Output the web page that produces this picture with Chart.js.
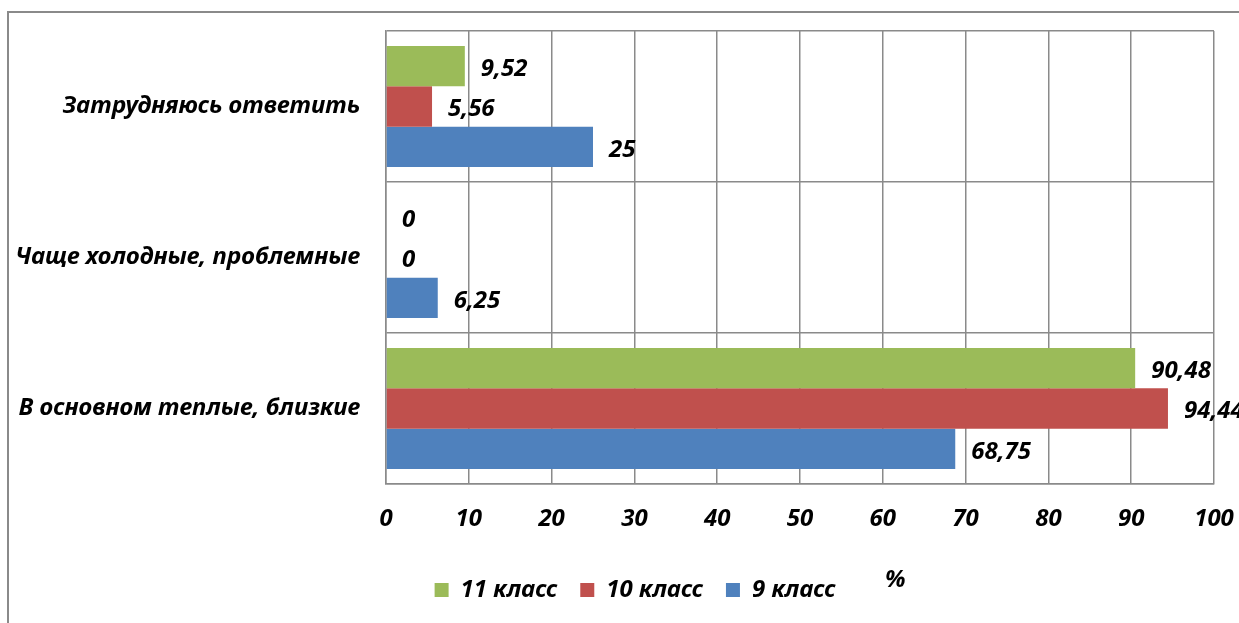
<!DOCTYPE html>
<html>
<head>
<meta charset="utf-8">
<script src="https://cdn.jsdelivr.net/npm/chart.js@4"></script>
<style>
  html, body { margin: 0; padding: 0; background: #fff; }
  #wrap { width: 1239px; height: 623px; position: relative; }
</style>
</head>
<body>
<div id="wrap"><canvas id="c"></canvas></div>
<script>
const categories = ['Затрудняюсь ответить', 'Чаще холодные, проблемные', 'В основном теплые, близкие'];
const seriesNames = ['11 класс', '10 класс', '9 класс'];
const grade11 = [9.52, 0, 90.48];
const grade10 = [5.56, 0, 94.44];
const grade9 = [25, 6.25, 68.75];
const xTicks = [0, 10, 20, 30, 40, 50, 60, 70, 80, 90, 100];
const axisTitle = '%';

const FONT = '"Noto Sans", sans-serif';
const FS = 24;
const GRID = '#8a8a8a';

const frame = {
  id: 'frame',
  beforeDraw(chart) {
    const ctx = chart.ctx;
    ctx.save();
    ctx.fillStyle = '#fff';
    ctx.fillRect(0, 0, chart.width, chart.height);
    ctx.strokeStyle = '#8a8a8a';
    ctx.lineWidth = 2;
    ctx.beginPath();
    ctx.moveTo(8, chart.height + 5);
    ctx.lineTo(8, 12);
    ctx.lineTo(chart.width + 5, 12);
    ctx.stroke();
    ctx.restore();
    // legend is centred a little right of the canvas centre in the reference
    if (chart.legend) { chart.legend.left += 20; chart.legend.right += 20; }
  }
};

const valueLabels = {
  id: 'valueLabels',
  afterDatasetsDraw(chart) {
    const ctx = chart.ctx;
    ctx.save();
    ctx.font = 'italic bold ' + FS + 'px ' + FONT;
    ctx.fillStyle = '#000';
    ctx.textAlign = 'left';
    ctx.textBaseline = 'middle';
    chart.data.datasets.forEach((ds, i) => {
      const meta = chart.getDatasetMeta(i);
      meta.data.forEach((el, j) => {
        const txt = String(ds.data[j]).replace('.', ',');
        ctx.fillText(txt, el.x + 16, el.y + 3);
      });
    });
    const xs = chart.scales.x;
    ctx.textAlign = 'center';
    ctx.fillText(axisTitle, xs.left + (xs.right - xs.left) * 0.615, 580);
    ctx.restore();
  }
};

const tickFont = { family: FONT, size: FS, style: 'italic', weight: 'bold' };

new Chart(document.getElementById('c'), {
  type: 'bar',
  data: {
    labels: categories,
    datasets: [
      { label: seriesNames[0], data: grade11, backgroundColor: '#9BBB59' },
      { label: seriesNames[1], data: grade10, backgroundColor: '#C0504D' },
      { label: seriesNames[2], data: grade9, backgroundColor: '#4F81BD' }
    ]
  },
  options: {
    indexAxis: 'y',
    responsive: true,
    maintainAspectRatio: false,
    animation: false,
    categoryPercentage: 0.8,
    barPercentage: 1.0,
    layout: { padding: { left: 16, right: 25, top: 31, bottom: 11 } },
    scales: {
      x: {
        min: 0, max: 100,
        afterBuildTicks(scale) { scale.ticks = xTicks.map(v => ({ value: v })); },
        afterFit(scale) { scale.height = 71; scale.paddingLeft = 0; scale.paddingRight = 0; },
        grid: { color: GRID, lineWidth: 1.5, drawTicks: false },
        border: { color: GRID, width: 1.5 },
        ticks: { padding: 21, color: '#000', font: tickFont }
      },
      y: {
        afterFit(scale) { scale.width = 370; scale.paddingTop = 0; scale.paddingBottom = 0; },
        grid: { color: GRID, lineWidth: 1.5, drawTicks: false, offset: true },
        border: { color: GRID, width: 1.5 },
        ticks: { padding: 26, color: '#000', font: tickFont }
      }
    },
    plugins: {
      legend: {
        position: 'bottom',
        labels: {
          boxWidth: 14, boxHeight: 14, padding: 23, color: '#000',
          font: tickFont
        }
      },
      tooltip: { enabled: false }
    }
  },
  plugins: [frame, valueLabels]
});
</script>
</body>
</html>
